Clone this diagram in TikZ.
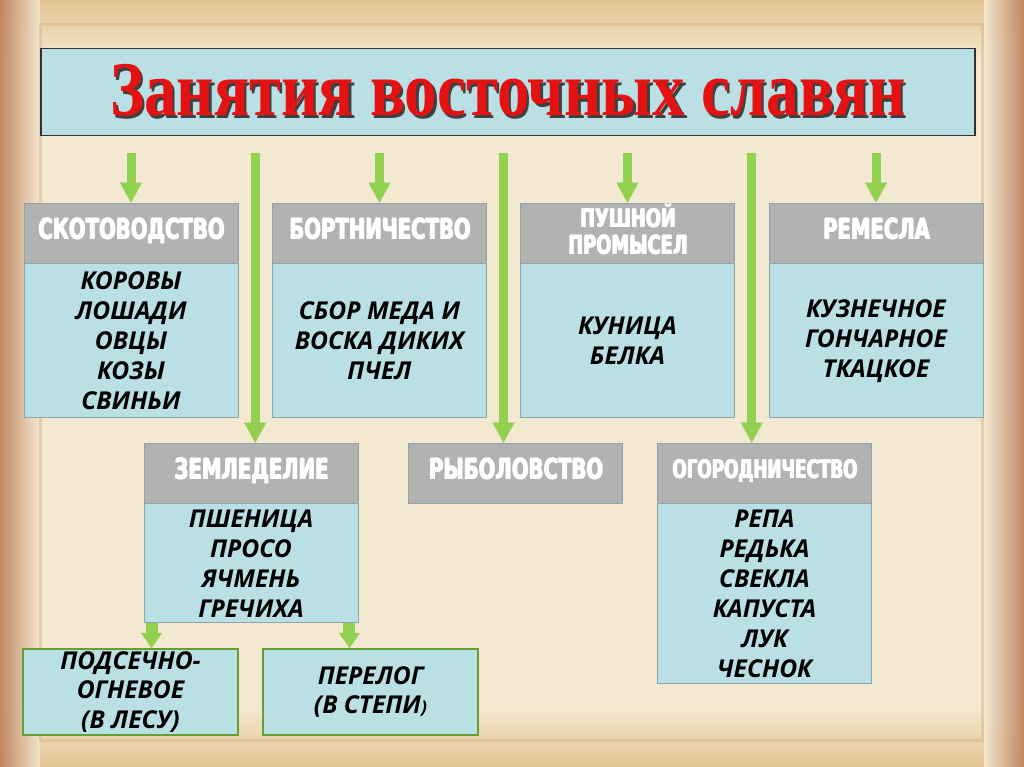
\documentclass[tikz,border=0pt]{standalone}
\usepackage{fontspec}
\usepackage{graphicx}
\usetikzlibrary{positioning,arrows.meta,calc}
\newfontfamily\titlefont{Liberation Serif}
\newfontfamily\headfont{DejaVu Sans}
\newfontfamily\itemfont{Open Sans}
\definecolor{paper}{RGB}{243,232,208}
\definecolor{paperedge}{RGB}{190,128,90}
\definecolor{papertop}{RGB}{226,196,148}
\definecolor{boxblue}{RGB}{186,223,228}
\definecolor{boxgray}{RGB}{178,178,178}
\definecolor{boxline}{RGB}{140,166,172}
\definecolor{arrgreen}{RGB}{146,208,80}
\definecolor{framegreen}{RGB}{98,160,52}
\definecolor{titlered}{RGB}{228,18,18}
\newcommand{\heavy}[1]{\rlap{\kern1pt#1}\rlap{\kern0.5pt\raisebox{0.4pt}{#1}}#1}
\newcommand{\hdr}[2][0.7]{\scalebox{#1}[1]{\heavy{\begin{tabular}{@{}c@{}}#2\end{tabular}}}}
\newcommand{\shadowtext}[1]{\makebox[0pt][l]{\hspace{0.6mm}\raisebox{-0.6mm}{\color{black!75}#1}}{\color{titlered}#1}}
\tikzset{
	titlebox/.style={draw=black!80,line width=0.6pt,fill=boxblue,minimum width=186.8mm,minimum height=17.4mm,inner sep=0,font=\titlefont\bfseries\fontsize{44}{44}\selectfont},
	hdbox/.style={draw=boxline,line width=0.5pt,fill=boxgray,minimum width=42.8mm,minimum height=12mm,inner sep=0,text=white,font=\headfont\bfseries\fontsize{16}{16}\selectfont},
	bdbox/.style={draw=boxline,line width=0.5pt,fill=boxblue,minimum width=42.8mm,inner sep=0,align=center,font=\itemfont\bfseries\itshape\fontsize{14}{17}\selectfont},
	lowbox/.style={draw=framegreen,line width=1.2pt,fill=boxblue,minimum width=43mm,minimum height=17.2mm,inner xsep=0,inner ysep=0,align=center,font=\itemfont\bfseries\itshape\fontsize{14}{17}\selectfont},
	arr/.style={draw=arrgreen,line width=1.8mm,-{Triangle[width=4.4mm,length=4mm,line width=0.1pt]}},
	arrfat/.style={draw=arrgreen,line width=2.4mm,-{Triangle[width=4.2mm,length=3mm,line width=0.1pt]}}
}
\begin{document}
\begin{tikzpicture}[x=0.2mm,y=-0.2mm]
	\useasboundingbox (0,0) rectangle (1024,767);
	\fill[paper] (0,0) rectangle (1024,767);
	\shade[top color=papertop,bottom color=paper] (0,0) rectangle (1024,60);
	\shade[top color=paper,bottom color=papertop] (0,707) rectangle (1024,767);
	\shade[left color=paperedge,right color=paper,opacity=0.9] (0,0) rectangle (40,767);
	\shade[left color=paper,right color=paperedge,opacity=0.9] (984,0) rectangle (1024,767);
	\draw[papertop!80!brown,line width=0.6mm,opacity=0.5] (40,24) rectangle (982,740);

	\node[titlebox] (title) at (508,92) {\scalebox{0.84}[1]{\shadowtext{Занятия восточных славян}}};

	\node[hdbox] (skoth) at (131,233) {\hdr{СКОТОВОДСТВО}};
	\node[bdbox,minimum height=30.8mm,below=0pt of skoth] (skotb) {КОРОВЫ\\ЛОШАДИ\\ОВЦЫ\\КОЗЫ\\СВИНЬИ};
	\node[hdbox] (borth) at (379.5,233) {\hdr{БОРТНИЧЕСТВО}};
	\node[bdbox,minimum height=30.8mm,below=0pt of borth] (bortb) {СБОР МЕДА И\\ВОСКА ДИКИХ\\ПЧЕЛ};
	\node[hdbox,font=\headfont\bfseries\fontsize{14.5}{17.5}\selectfont] (pushh) at (627.5,233) {\renewcommand\arraystretch{0.85}\hdr{ПУШНОЙ\\ПРОМЫСЕЛ}};
	\node[bdbox,minimum height=30.8mm,below=0pt of pushh] (pushb) {КУНИЦА\\БЕЛКА};
	\node[hdbox] (remh) at (876,233) {\hdr{РЕМЕСЛА}};
	\node[bdbox,minimum height=30.8mm,below=0pt of remh] (remb) {КУЗНЕЧНОЕ\\ГОНЧАРНОЕ\\ТКАЦКОЕ};

	\node[hdbox] (zemlh) at (251,473) {\hdr{ЗЕМЛЕДЕЛИЕ}};
	\node[bdbox,minimum height=23.8mm,below=0pt of zemlh] (zemlb) {ПШЕНИЦА\\ПРОСО\\ЯЧМЕНЬ\\ГРЕЧИХА};
	\node[hdbox] (rybh) at (515.5,473) {\hdr{РЫБОЛОВСТВО}};
	\node[hdbox,font=\headfont\bfseries\fontsize{14.5}{14.5}\selectfont] (ogorh) at (764.5,473) {\hdr[0.66]{ОГОРОДНИЧЕСТВО}};
	\node[bdbox,minimum height=36mm,below=0pt of ogorh] (ogorb) {РЕПА\\РЕДЬКА\\СВЕКЛА\\КАПУСТА\\ЛУК\\ЧЕСНОК};

	\node[lowbox] (podsech) at (130.5,692) {ПОДСЕЧНО-\\ОГНЕВОЕ\\(В ЛЕСУ)};
	\node[lowbox] (perelog) at (370.5,692) {ПЕРЕЛОГ\\(В СТЕПИ{\fontsize{10}{10}\selectfont)}};

	\coordinate (g1) at ($(skoth.east)!0.5!(borth.west)$);
	\coordinate (g2) at ($(borth.east)!0.5!(pushh.west)$);
	\coordinate (g3) at ($(pushh.east)!0.5!(remh.west)$);
	\coordinate (z1) at ([xshift=1.6mm]zemlb.south west);
	\coordinate (z2) at ([xshift=-1.8mm]zemlb.south east);

	\draw[arr] (title.south -| skoth.north) ++(0,16.5) -- (skoth.north);
	\draw[arr] (title.south -| borth.north) ++(0,16.5) -- (borth.north);
	\draw[arr] (title.south -| pushh.north) ++(0,16.5) -- (pushh.north);
	\draw[arr] (title.south -| remh.north) ++(0,16.5) -- (remh.north);
	\draw[arr] (title.south -| g1) ++(0,16.5) -- (zemlh.north -| g1);
	\draw[arr] (title.south -| g2) ++(0,16.5) -- (rybh.north -| g2);
	\draw[arr] (title.south -| g3) ++(0,16.5) -- (ogorh.north -| g3);
	\draw[arrfat] (z1) -- (z1 |- podsech.north);
	\draw[arrfat] (z2) -- (z2 |- perelog.north);
\end{tikzpicture}
\end{document}
